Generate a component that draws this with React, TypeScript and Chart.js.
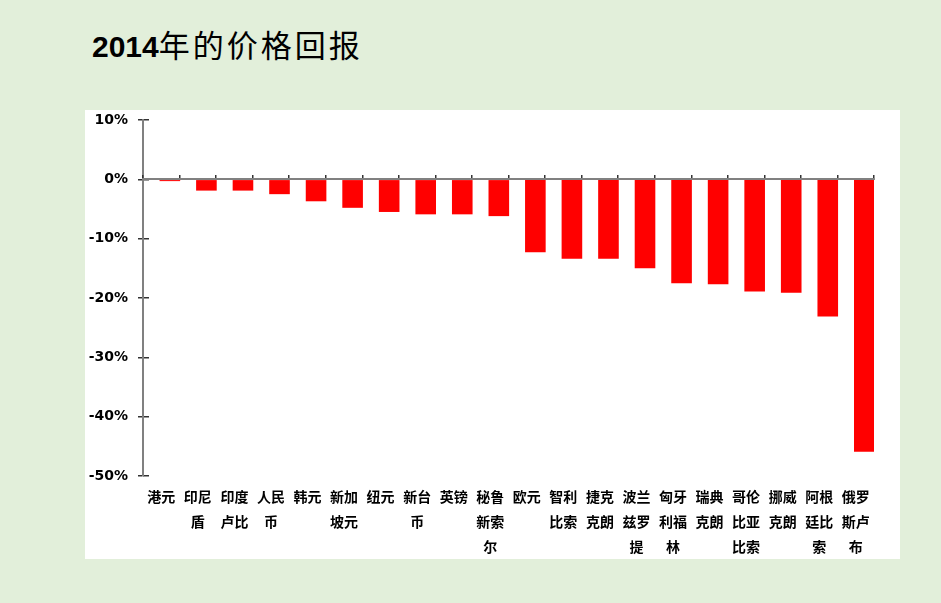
import React, { useEffect, useRef } from 'react';
import { Chart, registerables } from 'chart.js';

Chart.register(...registerables);

const titleYear = '2014';
const titleRest = '年的价格回报';

const categories = [
  '港元', '印尼盾', '印度卢比', '人民币', '韩元', '新加坡元', '纽元', '新台币', '英镑', '秘鲁新索尔',
  '欧元', '智利比索', '捷克克朗', '波兰兹罗提', '匈牙利福林', '瑞典克朗', '哥伦比亚比索', '挪威克朗', '阿根廷比索', '俄罗斯卢布',
];

const returns2014 = [
  -0.3, -1.9, -1.9, -2.5, -3.7, -4.8, -5.5, -5.9, -5.9, -6.2,
  -12.3, -13.4, -13.4, -15.0, -17.5, -17.7, -18.9, -19.1, -23.1, -45.9,
];

// empty companion series (Excel-style cluster slot, draws nothing)
const spacerSeries = categories.map(() => null);

const yMin = -50;
const yMax = 10;
const yStep = 10;

function wrap2(s: string): string[] {
  const out: string[] = [];
  for (let i = 0; i < s.length; i += 2) out.push(s.slice(i, i + 2));
  return out;
}

export default function App() {
  const ref = useRef<HTMLCanvasElement | null>(null);

  useEffect(() => {
    if (!ref.current) return;
    const chart = new Chart(ref.current, {
      type: 'bar',
      data: {
        labels: categories,
        datasets: [
          {
            label: 'spacer',
            data: spacerSeries as any,
            backgroundColor: 'rgba(0,0,0,0)',
            xAxisID: 'x',
            yAxisID: 'y',
          },
          {
            label: '2014年的价格回报',
            data: returns2014,
            backgroundColor: '#FF0000',
            borderWidth: 0,
            xAxisID: 'x',
            yAxisID: 'y',
          },
        ],
      },
      options: {
        responsive: false,
        animation: false,
        categoryPercentage: 0.94,
        barPercentage: 1.2,
        layout: { padding: { top: 10, right: 26, left: 0, bottom: 0 } },
        plugins: {
          legend: { display: false },
          tooltip: { enabled: false },
          title: { display: false },
        },
        scales: {
          x: {
            type: 'category',
            position: 'bottom',
            offset: true,
            grid: { display: false, offset: true },
            border: { display: false },
            ticks: {
              autoSkip: false,
              maxRotation: 0,
              minRotation: 0,
              padding: 0,
              color: '#000',
              font: { family: '"Noto Sans CJK SC", sans-serif', size: 14, weight: 'bold', lineHeight: 1.8 },
              callback: (_v: any, i: number) => wrap2(categories[i]),
            },
            afterFit: (s: any) => { s.height = 83; },
          },
          xZero: {
            type: 'category',
            position: { y: 0 } as any,
            offset: true,
            grid: { offset: true, drawOnChartArea: false, drawTicks: true, tickLength: -5, color: '#333', lineWidth: 1.5, z: 1 },
            border: { display: true, color: '#808080', width: 2, z: 1 },
            ticks: { display: false },
          },
          y: {
            type: 'linear',
            position: 'left',
            min: yMin,
            max: yMax,
            ticks: {
              stepSize: yStep,
              padding: 10,
              color: '#000',
              font: { family: '"DejaVu Sans", sans-serif', size: 14, weight: 'bold' },
              callback: (v: any) => `${v}%`,
            },
            grid: { drawOnChartArea: false, tickLength: 5, color: '#333', lineWidth: 1.5 },
            border: { color: '#808080', width: 2 },
            afterFit: (s: any) => { s.width = 58; s.paddingTop = 0; s.paddingBottom = 0; },
          },
          yIn: {
            type: 'linear',
            position: { x: -0.5 } as any,
            min: yMin,
            max: yMax,
            ticks: { display: false, stepSize: yStep },
            grid: { drawOnChartArea: false, tickLength: -6, color: '#333', lineWidth: 1.5 },
            border: { display: false },
            afterFit: (s: any) => { s.paddingTop = 0; s.paddingBottom = 0; },
          },
        },
      } as any,
    });
    return () => chart.destroy();
  }, []);

  return (
    <div style={{ position: 'absolute', left: 0, top: 0, width: 941, height: 603, background: '#E2EFDA', overflow: 'hidden' }}>
      <div style={{ position: 'absolute', left: 92, top: 28, whiteSpace: 'nowrap', lineHeight: '32px', color: '#000' }}>
        <span style={{ fontFamily: '"Liberation Sans", Arial, sans-serif', fontWeight: 'bold', fontSize: 30 }}>{titleYear}</span>
        <span style={{ fontFamily: '"Noto Sans CJK SC", sans-serif', fontWeight: 'normal', fontSize: 31, letterSpacing: 3 }}>{titleRest}</span>
      </div>
      <div style={{ position: 'absolute', left: 85, top: 110, width: 815, height: 449, background: '#FFFFFF' }}>
        <canvas ref={ref} width={815} height={449} style={{ display: 'block' }} />
      </div>
    </div>
  );
}
